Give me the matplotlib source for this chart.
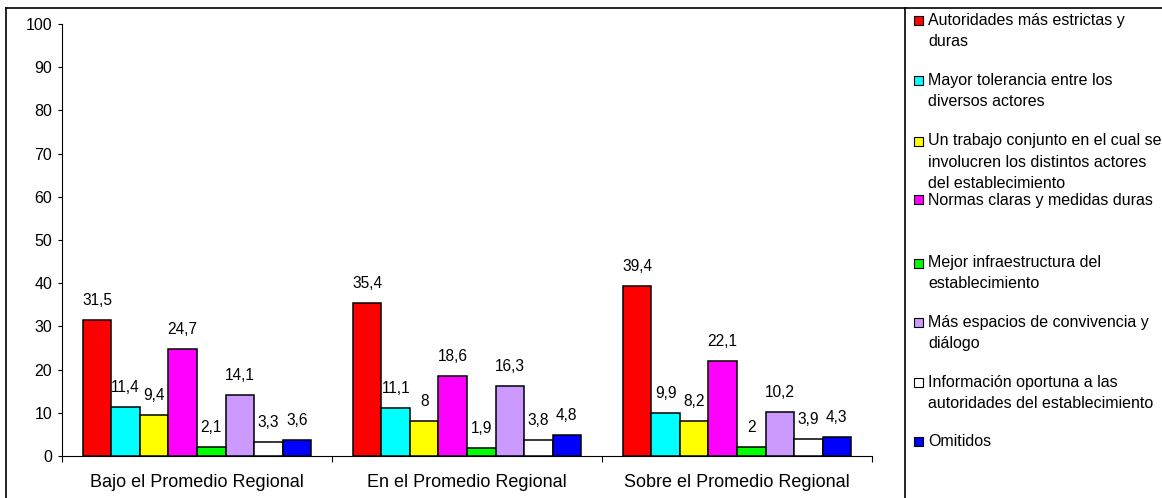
import matplotlib
matplotlib.use("Agg")
import matplotlib.pyplot as plt
from matplotlib.patches import Rectangle
from matplotlib.lines import Line2D
import numpy as np

plt.rcParams['font.family'] = ['Liberation Sans', 'DejaVu Sans']

categories = ["Bajo el Promedio Regional", "En el Promedio Regional", "Sobre el Promedio Regional"]

series_names = [
    "Autoridades más estrictas y\nduras",
    "Mayor tolerancia entre los\ndiversos actores",
    "Un trabajo conjunto en el cual se\ninvolucren los distintos actores\ndel establecimiento",
    "Normas claras y medidas duras",
    "Mejor infraestructura del\nestablecimiento",
    "Más espacios de convivencia y\ndiálogo",
    "Información oportuna a las\nautoridades del establecimiento",
    "Omitidos",
]

autoridades = [31.5, 35.4, 39.4]
tolerancia = [11.4, 11.1, 9.9]
trabajo_conjunto = [9.4, 8.0, 8.2]
normas_claras = [24.7, 18.6, 22.1]
infraestructura = [2.1, 1.9, 2.0]
espacios = [14.1, 16.3, 10.2]
informacion = [3.3, 3.8, 3.9]
omitidos = [3.6, 4.8, 4.3]

series_values = [autoridades, tolerancia, trabajo_conjunto, normas_claras,
                 infraestructura, espacios, informacion, omitidos]

colors = ["#FF0000", "#00FFFF", "#FFFF00", "#FF00FF",
          "#00FF00", "#CC99FF", "#FFFFFF", "#0000FF"]

W, H = 1162, 498
fig = plt.figure(figsize=(W / 100, H / 100), dpi=100)

def fx(px):
    return px / W

def fy(py):
    return 1 - py / H

ax = fig.add_axes([fx(62), fy(456), fx(872) - fx(62), fy(24) - fy(456)])

n = len(series_values)
bar_w = 0.1056
x = np.arange(len(categories))
for i, (vals, col) in enumerate(zip(series_values, colors)):
    offs = (i - (n - 1) / 2) * bar_w
    bars = ax.bar(x + offs, vals, width=bar_w, color=col,
                  edgecolor="black", linewidth=1.1, zorder=3)
    for b, v in zip(bars, vals):
        ax.annotate(f"{v:g}".replace(".", ","),
                    (b.get_x() + b.get_width() / 2, v),
                    xytext=(0, 10.8), textcoords="offset points",
                    ha="center", va="baseline", fontsize=11.2)

ax.set_xlim(-0.5, len(categories) - 0.5)
ax.set_ylim(0, 100)
ax.set_yticks(np.arange(0, 101, 10))
ax.tick_params(axis="y", length=3, width=0.8, pad=4, labelsize=11.5)

ax.set_xticks(np.arange(-0.5, len(categories), 1.0))
ax.set_xticklabels([])
ax.tick_params(axis="x", which="major", length=4, width=0.8, direction="out")
ax.set_xticks(x, minor=True)
ax.set_xticklabels(categories, minor=True, fontsize=13)
ax.tick_params(axis="x", which="minor", length=0, pad=13)

for s in ("top", "right"):
    ax.spines[s].set_visible(False)
for s in ("left", "bottom"):
    ax.spines[s].set_linewidth(0.8)

# outer frame and legend divider
lw = 1.2
fig.add_artist(Line2D([fx(6), fx(6)], [fy(8), 0], transform=fig.transFigure, color="black", lw=lw))
fig.add_artist(Line2D([fx(6), 1], [fy(8), fy(8)], transform=fig.transFigure, color="black", lw=lw))
fig.add_artist(Line2D([fx(905), fx(905)], [fy(8), 0], transform=fig.transFigure, color="black", lw=lw))

# legend entries
line_y = [[21, 42], [81, 101], [141, 162, 183], [200],
          [263, 283], [322, 343], [382, 403], [441]]
for name, col, ys in zip(series_names, colors, line_y):
    fig.add_artist(Rectangle((fx(914), fy(ys[0] + 4.5)), fx(9), 9 / H,
                             transform=fig.transFigure, facecolor=col,
                             edgecolor="black", linewidth=0.8))
    for line, yy in zip(name.split("\n"), ys):
        fig.text(fx(928), fy(yy), line, ha="left", va="center", fontsize=11.5)

fig.savefig("out.png", dpi=100)
